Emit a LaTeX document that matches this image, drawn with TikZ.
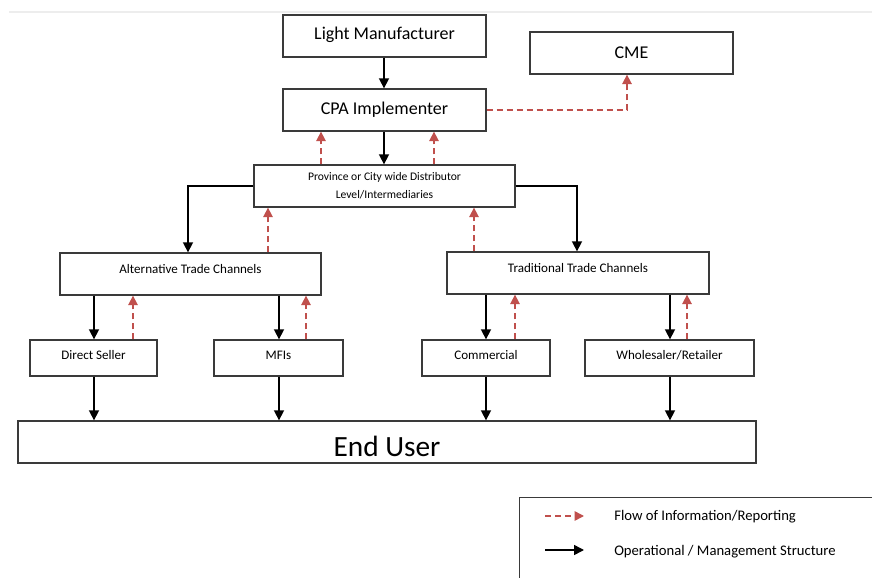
\documentclass[tikz,border=0pt]{standalone}
\usepackage{fontspec}
\setmainfont{Carlito}
\usetikzlibrary{arrows.meta}
\definecolor{repred}{HTML}{C0504D}
\definecolor{boxline}{HTML}{3A3A3A}
\tikzset{
  box/.style={draw=boxline, line width=1pt, fill=white, inner sep=0pt, align=center},
  bigtext/.style={font=\fontsize{13.5}{16}\selectfont},
  midtext/.style={font=\fontsize{9.8}{12}\selectfont},
  smalltext/.style={font=\fontsize{8.7}{13.5}\selectfont},
  blk/.style={draw=black, line width=1.2pt, -{Triangle[length=7.5pt,width=7.5pt]}},
  info/.style={draw=repred, line width=1.2pt, dash pattern=on 4.5pt off 3pt, -{Triangle[length=7pt,width=7pt]}},
}
\begin{document}
\begin{tikzpicture}[x=0.75pt,y=-0.75pt]
\useasboundingbox (0,0) rectangle (872,578);
\clip (0,0) rectangle (872,578);
\fill[white] (0,0) rectangle (872,578);
\draw[black!7, line width=0.8pt] (9,12) -- (872,12);

% boxes
\node[box, bigtext, minimum width=152.25pt, minimum height=31.5pt, text depth=4pt] (lm) at (384.5,36) {Light Manufacturer};
\node[box, bigtext, minimum width=152.25pt, minimum height=31.5pt] (cme) at (631.5,53) {CME};
\node[box, bigtext, minimum width=152.25pt, minimum height=31.5pt] (cpa) at (384.5,110) {CPA Implementer};
\node[box, smalltext, minimum width=195.75pt, minimum height=31.5pt] (prov) at (384.5,186) {Province or City wide Distributor\\Level/Intermediaries};
\node[box, midtext, minimum width=195.75pt, minimum height=31.5pt, text depth=7pt] (alt) at (190.5,274) {Alternative Trade Channels};
\node[box, midtext, minimum width=196.5pt, minimum height=31.5pt, text depth=7pt] (trad) at (578,273) {Traditional Trade Channels};
\node[box, midtext, minimum width=95.25pt, minimum height=27pt, text depth=4pt] (ds) at (93.5,358) {Direct Seller};
\node[box, midtext, minimum width=96.75pt, minimum height=27pt, text depth=4pt] (mfi) at (278.5,358) {MFIs};
\node[box, midtext, minimum width=96pt, minimum height=27pt, text depth=4pt] (com) at (486,358) {Commercial};
\node[box, midtext, minimum width=126.75pt, minimum height=27pt, text depth=4pt] (ws) at (669.5,358) {Wholesaler/Retailer};
\node[box, font=\fontsize{22}{26}\selectfont, minimum width=553.5pt, minimum height=31.5pt, text depth=0pt, text height=21pt] (eu) at (387,442) {End User};

% x positions
\coordinate (x94) at (94,0);
\coordinate (x133) at (133,0);
\coordinate (x188) at (188,0);
\coordinate (x268) at (268,0);
\coordinate (x279) at (279,0);
\coordinate (x306) at (306,0);
\coordinate (x321) at (321,0);
\coordinate (x384) at (384,0);
\coordinate (x434) at (434,0);
\coordinate (x474) at (474,0);
\coordinate (x486) at (486,0);
\coordinate (x515) at (515,0);
\coordinate (x577) at (577,0);
\coordinate (x627) at (627,0);
\coordinate (x670) at (670,0);
\coordinate (x687) at (687,0);

% operational arrows
\draw[blk] (lm.south -| x384) -- (cpa.north -| x384);
\draw[blk] (cpa.south -| x384) -- (prov.north -| x384);
\draw[blk] (prov.west) -| (alt.north -| x188);
\draw[blk] (prov.east) -| (trad.north -| x577);
\draw[blk] (alt.south -| x94) -- (ds.north -| x94);
\draw[blk] (alt.south -| x279) -- (mfi.north -| x279);
\draw[blk] (trad.south -| x486) -- (com.north -| x486);
\draw[blk] (trad.south -| x670) -- (ws.north -| x670);
\draw[blk] (ds.south -| x94) -- (eu.north -| x94);
\draw[blk] (mfi.south -| x279) -- (eu.north -| x279);
\draw[blk] (com.south -| x486) -- (eu.north -| x486);
\draw[blk] (ws.south -| x670) -- (eu.north -| x670);

% information arrows
\draw[info] (prov.north -| x321) -- (cpa.south -| x321);
\draw[info] (prov.north -| x434) -- (cpa.south -| x434);
\draw[info] (cpa.east) -| (cme.south -| x627);
\draw[info] (alt.north -| x268) -- (prov.south -| x268);
\draw[info] (trad.north -| x474) -- (prov.south -| x474);
\draw[info] (ds.north -| x133) -- (alt.south -| x133);
\draw[info] (mfi.north -| x306) -- (alt.south -| x306);
\draw[info] (com.north -| x515) -- (trad.south -| x515);
\draw[info] (ws.north -| x687) -- (trad.south -| x687);

% legend
\node[draw=boxline, line width=1pt, minimum width=300pt, minimum height=80pt, anchor=north west, inner sep=0pt] (leg) at (519,497) {};
\coordinate (l1a) at (545,516);
\coordinate (l1b) at (584,516);
\coordinate (l2a) at (545,550);
\coordinate (l2b) at (584,550);
\draw[info] (l1a) -- (l1b);
\draw[blk] (l2a) -- (l2b);
\node[anchor=west, inner sep=0pt, font=\fontsize{11}{13}\selectfont] (lt1) at (614,517) {Flow of Information/Reporting};
\node[anchor=west, inner sep=0pt, font=\fontsize{11}{13}\selectfont] (lt2) at (614,551.5) {Operational / Management Structure};
\end{tikzpicture}
\end{document}
